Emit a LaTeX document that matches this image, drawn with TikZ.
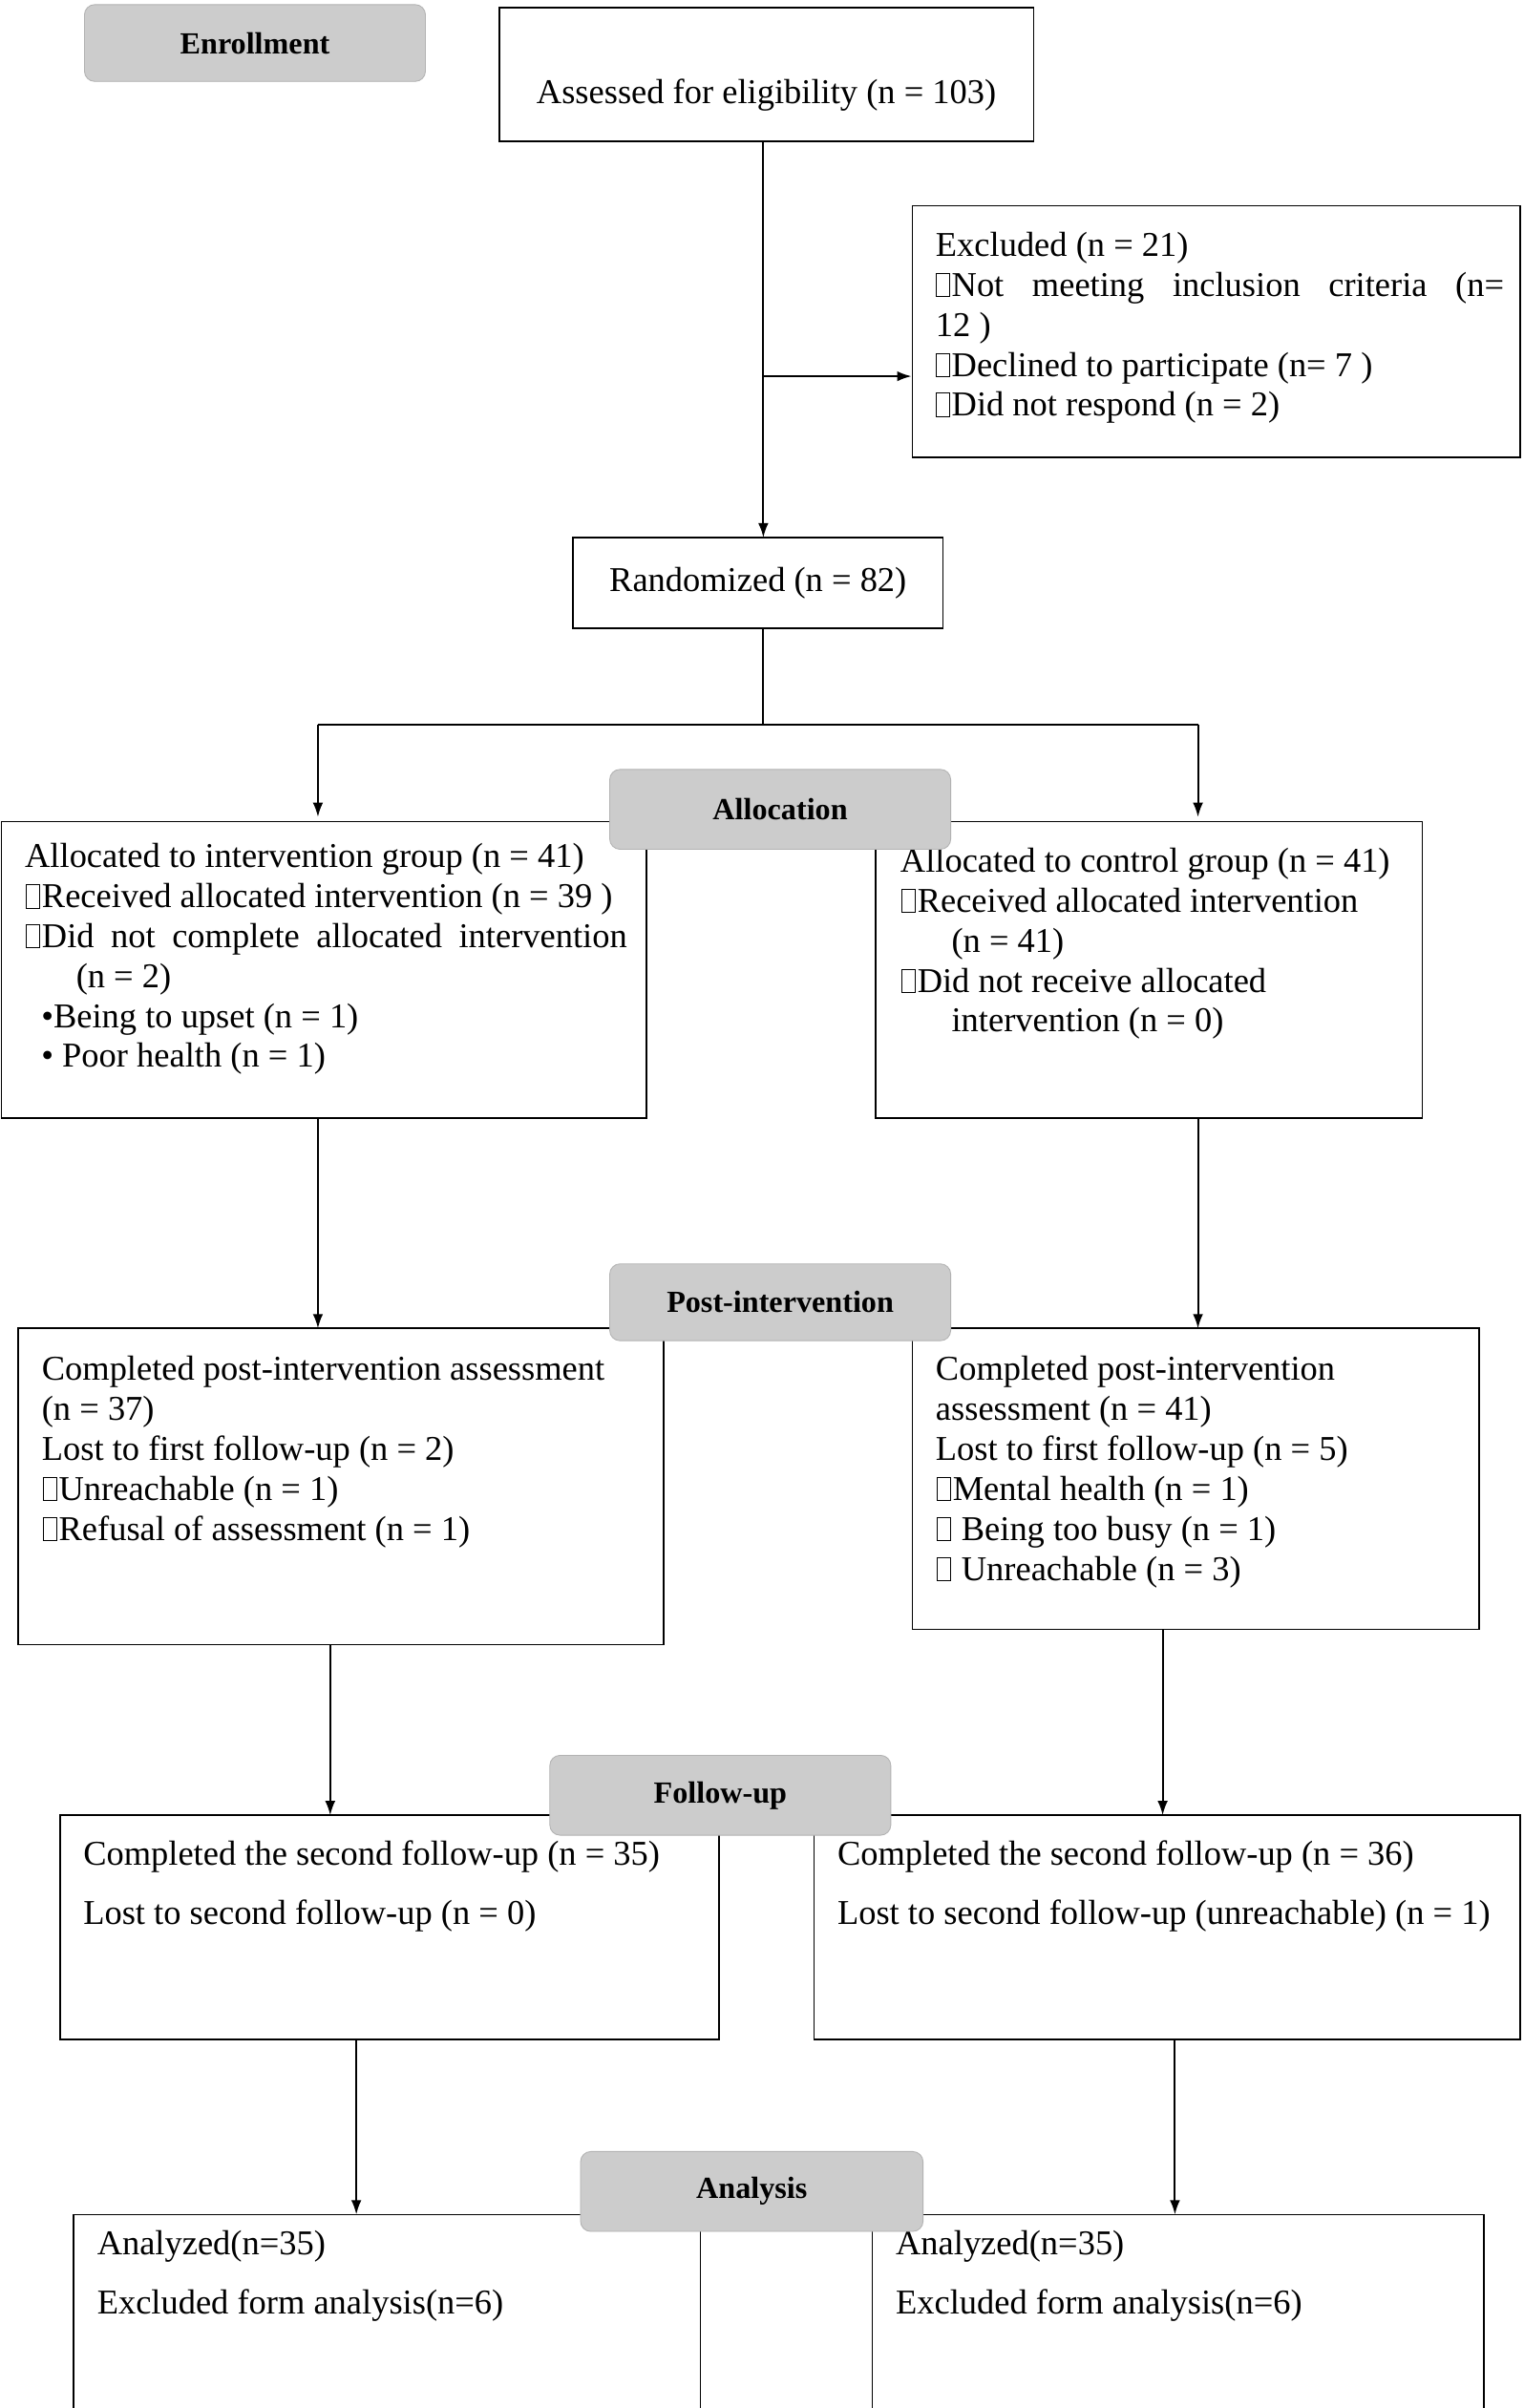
\documentclass[tikz,border=0pt]{standalone}
\usepackage{fontspec}
\usetikzlibrary{arrows.meta}
\setmainfont{Liberation Serif}
\newcommand\bx{\kern0.5pt{\setlength{\fboxsep}{0pt}\setlength{\fboxrule}{0.4pt}\fbox{\rule{0pt}{11pt}\rule{6pt}{0pt}}}\kern1pt}
\begin{document}
\begin{tikzpicture}[x=0.75pt,y=-0.75pt,
  box/.style={draw,line width=0.8pt,inner sep=0},
  hdr/.style={draw=gray!60,fill=gray!40,rounded corners=5pt,inner sep=0,font=\fontsize{15}{18}\selectfont\bfseries},
  txt/.style={anchor=north west,inner sep=0,align=left,font=\fontsize{17}{19.5}\selectfont},
  arr/.style={-{Latex[length=7pt,width=5pt]},line width=0.9pt}]
\useasboundingbox (0,0) rectangle (992,1568);
\fill[white] (0,0) rectangle (992,1568);
% boxes
\node[box,minimum width=348*0.75pt,minimum height=87*0.75pt] (as) at (499,48.5) {};
\node[box,minimum width=396*0.75pt,minimum height=164*0.75pt] (ex) at (792,216) {};
\node[box,minimum width=241*0.75pt,minimum height=59*0.75pt] (ra) at (493.5,379.5) {};
\node[box,minimum width=420*0.75pt,minimum height=193*0.75pt] (la) at (211,631.5) {};
\node[box,minimum width=356*0.75pt,minimum height=193*0.75pt] (rla) at (748,631.5) {};
\node[box,minimum width=420*0.75pt,minimum height=206*0.75pt] (lp) at (222,968) {};
\node[box,minimum width=369*0.75pt,minimum height=196*0.75pt] (rp) at (778.5,963) {};
\node[box,minimum width=429*0.75pt,minimum height=146*0.75pt] (lf) at (253.5,1255) {};
\node[box,minimum width=460*0.75pt,minimum height=146*0.75pt] (rf) at (760,1255) {};
\node[box,minimum width=408*0.75pt,minimum height=130*0.75pt] (lan) at (252,1507) {};
\node[box,minimum width=398*0.75pt,minimum height=130*0.75pt] (ran) at (767,1507) {};
% texts
\node[txt,anchor=center] (ast) at (499,62) {Assessed for eligibility (n = 103)};
\node[txt,anchor=center] (rat) at (ra) {Randomized (n = 82)};
\node[txt,text width=370*0.75pt,align=justify] (ext) at (609,151) {Excluded (n = 21)\\
\bx Not\hfill meeting\hfill inclusion\hfill criteria\hfill (n=\\12 )\\
\bx Declined to participate (n= 7 )\\
\bx Did not respond (n = 2)};
\node[txt] (lat) at (16,549) {Allocated to intervention group (n = 41)\\
\bx Received allocated intervention (n = 39 )\\
\makebox[294pt][s]{\bx Did not complete allocated intervention}\\
\hspace*{25pt}(n = 2)\\
\hspace*{8pt}•Being to upset (n = 1)\\
\hspace*{8pt}• Poor health (n = 1)};
\node[txt] (rlat) at (586,552) {Allocated to control group (n = 41)\\
\bx Received allocated intervention\\
\hspace*{25pt}(n = 41)\\
\bx Did not receive allocated\\
\hspace*{25pt}intervention (n = 0)};
\node[txt] (lpt) at (27,883) {Completed post-intervention assessment\\
(n = 37)\\
Lost to first follow-up (n = 2)\\
\bx Unreachable (n = 1)\\
\bx Refusal of assessment (n = 1)};
\node[txt] (rpt) at (609,883) {Completed post-intervention\\
assessment (n = 41)\\
Lost to first follow-up (n = 5)\\
\bx Mental health (n = 1)\\
\bx\ Being too busy (n = 1)\\
\bx\ Unreachable (n = 3)};
\node[txt,font=\fontsize{17}{29}\selectfont] (lft) at (54,1198) {Completed the second follow-up (n = 35)\\
Lost to second follow-up (n = 0)};
\node[txt,font=\fontsize{17}{29}\selectfont] (rft) at (545,1198) {Completed the second follow-up (n = 36)\\
Lost to second follow-up (unreachable) (n = 1)};
\node[txt,font=\fontsize{17}{29}\selectfont] (lant) at (63,1452) {Analyzed(n=35)\\
Excluded form analysis(n=6)};
\node[txt,font=\fontsize{17}{29}\selectfont] (rant) at (583,1452) {Analyzed(n=35)\\
Excluded form analysis(n=6)};
% connectors
\coordinate (br) at (497,245);
\coordinate (sp) at (497,472);
\coordinate (spl) at (207,472);
\coordinate (spr) at (780,472);
\draw[arr] (497,92) -- (497,350);
\draw[arr] (br) -- (br -| ex.west);
\draw[line width=0.9pt] (497,409) -- (sp);
\draw[line width=0.9pt] (spl) -- (spr);
\draw[arr] (spl) -- (207,532);
\draw[arr] (spr) -- (780,532);
\draw[arr] (207,728) -- (207,865);
\draw[arr] (780,728) -- (780,865);
\draw[arr] (215,1071) -- (215,1182);
\draw[arr] (757,1061) -- (757,1182);
\draw[arr] (232,1328) -- (232,1442);
\draw[arr] (765,1328) -- (765,1442);
% headers
\node[hdr,minimum width=222*0.75pt,minimum height=50*0.75pt] (h1) at (166,28) {Enrollment};
\node[hdr,minimum width=222*0.75pt,minimum height=52*0.75pt] (h2) at (508,527) {Allocation};
\node[hdr,minimum width=222*0.75pt,minimum height=50*0.75pt] (h3) at (508,848) {Post-intervention};
\node[hdr,minimum width=222*0.75pt,minimum height=52*0.75pt] (h4) at (469,1169) {Follow-up};
\node[hdr,minimum width=223*0.75pt,minimum height=52*0.75pt] (h5) at (489.5,1427) {Analysis};
\end{tikzpicture}
\end{document}
